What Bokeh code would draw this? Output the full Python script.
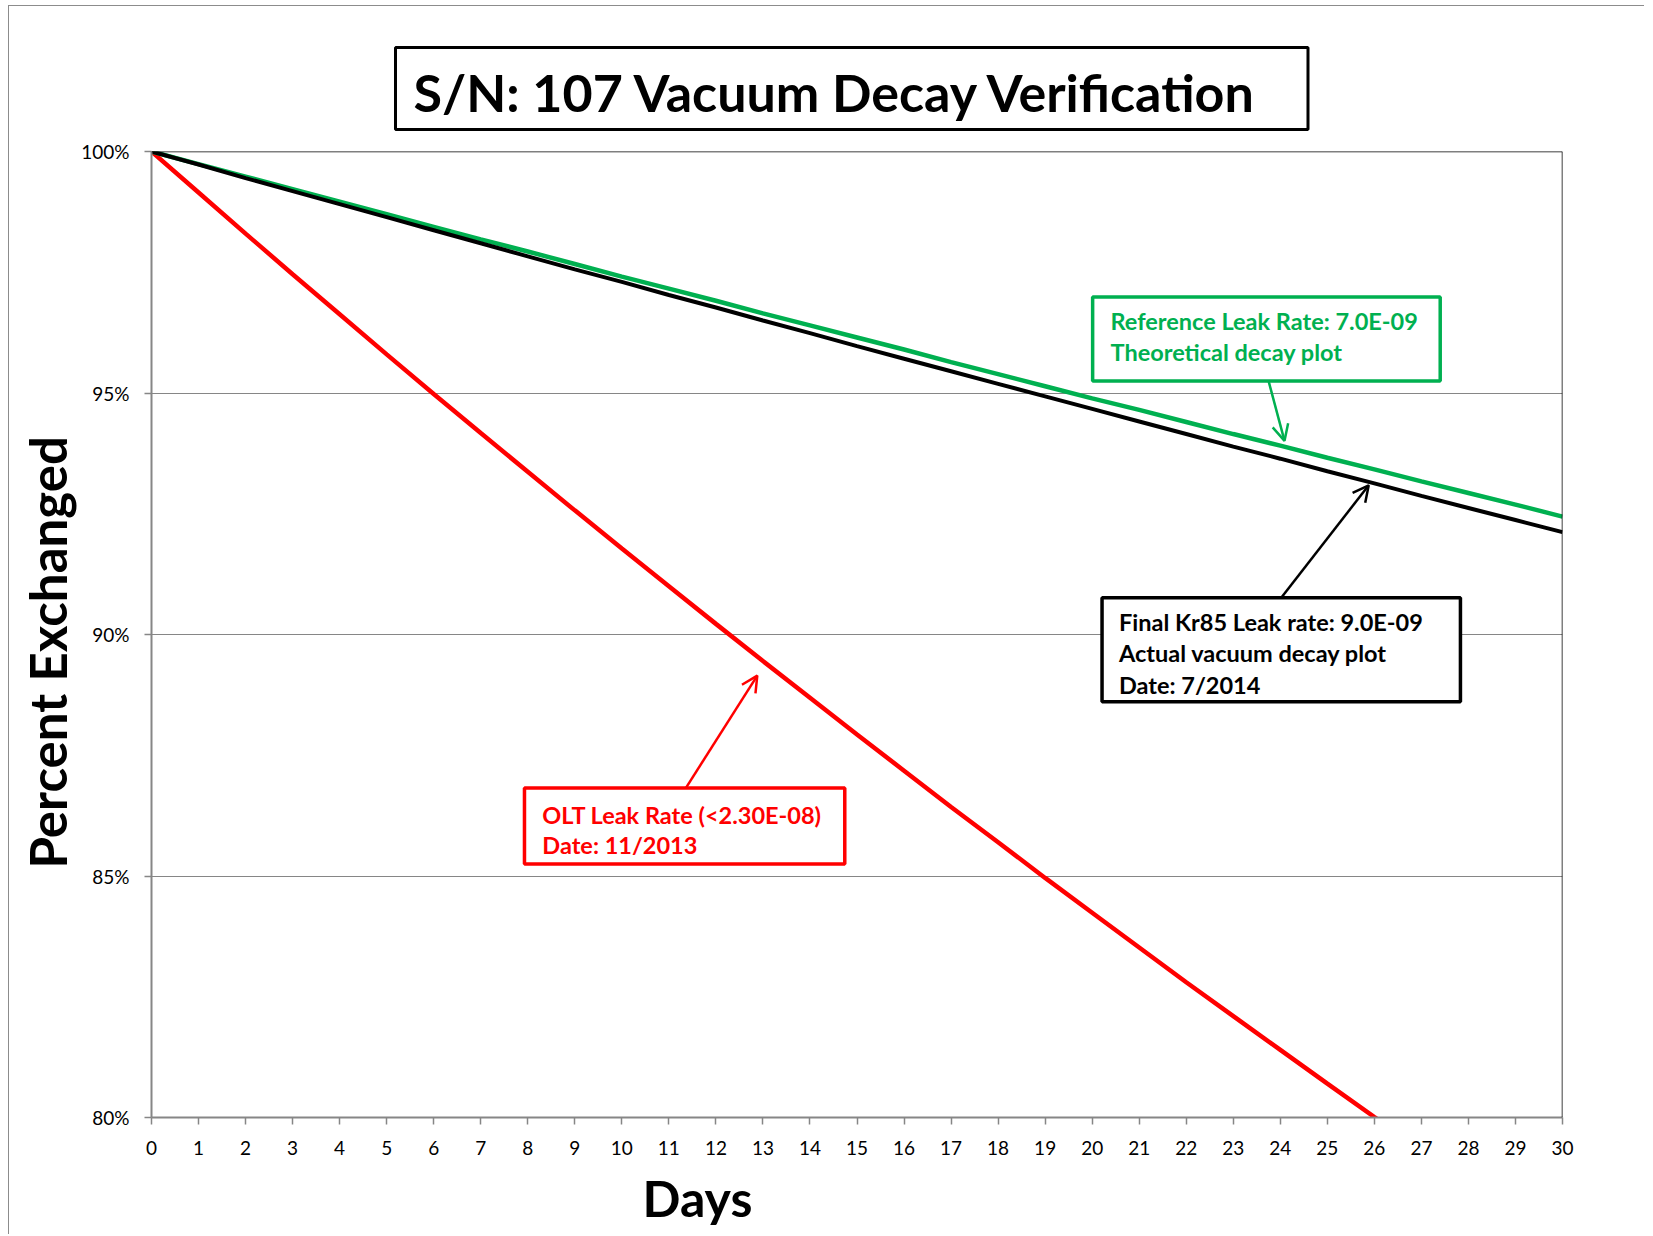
from bokeh.plotting import figure
from bokeh.models import (Range1d, FixedTicker, Span, BoxAnnotation, Label, Arrow, OpenHead, Title)
from bokeh.embed import file_html
from bokeh.resources import INLINE

# ---- data ----
days = list(range(31))
olt_pct = [100.0, 99.15, 98.30, 97.46, 96.63, 95.80, 94.98, 94.17, 93.37, 92.57,
           91.78, 91.00, 90.22, 89.45, 88.69, 87.93, 87.18, 86.43, 85.70, 84.96,
           84.24, 83.52, 82.80, 82.10, 81.40, 80.70, 80.01, 79.33, 78.65, 77.98, 77.31]
reference_pct = [100.0, 99.74, 99.48, 99.22, 98.96, 98.70, 98.44, 98.18, 97.93, 97.67,
                 97.41, 97.16, 96.91, 96.65, 96.40, 96.15, 95.90, 95.64, 95.39, 95.14,
                 94.89, 94.65, 94.40, 94.15, 93.91, 93.66, 93.42, 93.17, 92.93, 92.69, 92.44]
actual_pct = [100.0, 99.73, 99.45, 99.18, 98.91, 98.64, 98.37, 98.10, 97.83, 97.56,
              97.30, 97.03, 96.77, 96.50, 96.24, 95.97, 95.71, 95.45, 95.19, 94.93,
              94.67, 94.41, 94.15, 93.89, 93.64, 93.38, 93.13, 92.87, 92.62, 92.37, 92.12]
x_ticks = list(range(31))
y_ticks = [80, 85, 90, 95, 100]
y_tick_labels = ["80%", "85%", "90%", "95%", "100%"]
title_text = "S/N: 107 Vacuum Decay Verification"
x_label = "Days"
y_label = "Percent Exchanged"
green_lines = ["Reference Leak Rate: 7.0E-09", "Theoretical decay plot"]
black_lines = ["Final Kr85 Leak rate: 9.0E-09", "Actual vacuum decay plot", "Date: 7/2014"]
red_lines = ["OLT Leak Rate (<2.30E-08)", "Date: 11/2013"]

FONT = "Lato"
GRAY = "#868686"
RED = "#FF0000"
GREEN = "#00B050"

p = figure(width=1636, height=1229, x_range=Range1d(0, 30), y_range=Range1d(80, 100),
           output_backend="svg", toolbar_location=None,
           min_border_left=142, min_border_right=83, min_border_top=145, min_border_bottom=117)
p.styles = {"border-left": "1px solid #8c8c8c", "border-top": "1px solid #8c8c8c",
            "margin-left": "8px", "margin-top": "5px"}

p.outline_line_color = None
p.background_fill_color = "white"
p.border_fill_color = "white"

# title (boxed)
p.title.text = title_text
p.title.align = "left"
p.title.offset = 244
p.title.text_font = FONT
p.title.text_font_style = "bold"
p.title.text_font_size = "52px"
p.title.text_color = "black"
p.title.border_line_color = "black"
p.title.border_line_width = 3
p.title.background_fill_color = "white"
p.title.padding = dict(left=18, right=49, top=13, bottom=7)
p.title.standoff = 44

# axis titles placed as panel titles so they can be offset like the reference
p.add_layout(Title(text=x_label, align="left", offset=491, standoff=16,
                   text_font=FONT, text_font_style="bold", text_font_size="50px",
                   text_color="black"), "below")
p.add_layout(Title(text=y_label, align="left", offset=249, standoff=1,
                   text_font=FONT, text_font_style="bold", text_font_size="51px",
                   text_color="black"), "left")

# axes
p.xaxis.ticker = FixedTicker(ticks=x_ticks)
p.yaxis.ticker = FixedTicker(ticks=y_ticks)
p.yaxis.major_label_overrides = {t: l for t, l in zip(y_ticks, y_tick_labels)}
for ax in (p.xaxis[0], p.yaxis[0]):
    ax.axis_line_color = GRAY
    ax.axis_line_width = 2
    ax.major_tick_line_color = GRAY
    ax.major_tick_line_width = 1.5
    ax.major_tick_in = 0
    ax.major_tick_out = 7
    ax.minor_tick_line_color = None
    ax.major_label_text_font = FONT
    ax.major_label_text_font_size = "19px"
    ax.major_label_text_color = "black"
p.xaxis.major_label_standoff = 16
p.yaxis.major_label_standoff = 15

p.xgrid.grid_line_color = None
p.ygrid.grid_line_color = GRAY
p.ygrid.grid_line_width = 1.2

# top and right border of plot area
p.add_layout(Span(location=100, dimension="width", line_color="black", line_width=1.5))
p.add_layout(Span(location=30, dimension="height", line_color="black", line_width=1.5))

# series
p.line(days, olt_pct, line_color=RED, line_width=4.5)
p.line(days, reference_pct, line_color=GREEN, line_width=4.5)
p.line(days, actual_pct, line_color="black", line_width=4)

# annotations
def callout(left, right, top, bottom, color, lines, tx, ty_list, arrow):
    p.add_layout(Arrow(end=OpenHead(size=16, line_color=color, line_width=2.5),
                       x_start=arrow[0], y_start=arrow[1], x_end=arrow[2], y_end=arrow[3],
                       line_color=color, line_width=2.5))
    p.add_layout(BoxAnnotation(left=left, right=right, top=top, bottom=bottom,
                               fill_color="white", fill_alpha=1.0,
                               line_color=color, line_width=3.5, line_alpha=1.0))
    for txt, ty in zip(lines, ty_list):
        p.add_layout(Label(x=tx, y=ty, text=txt, text_font=FONT, text_font_style="bold",
                           text_font_size="23.5px", text_color=color, text_baseline="middle"))

callout(20.01, 27.40, 96.99, 95.25, GREEN, green_lines, 20.39, [96.49, 95.84],
        (23.75, 95.25, 24.09, 94.01))
callout(20.21, 27.83, 90.76, 88.61, "black", black_lines, 20.57, [90.26, 89.61, 88.95],
        (24.02, 90.76, 25.88, 93.09))
callout(7.93, 14.74, 86.82, 85.25, RED, red_lines, 8.31, [86.27, 85.64],
        (11.36, 86.82, 12.88, 89.15))

open("out.html", "w").write(file_html(p, INLINE))
